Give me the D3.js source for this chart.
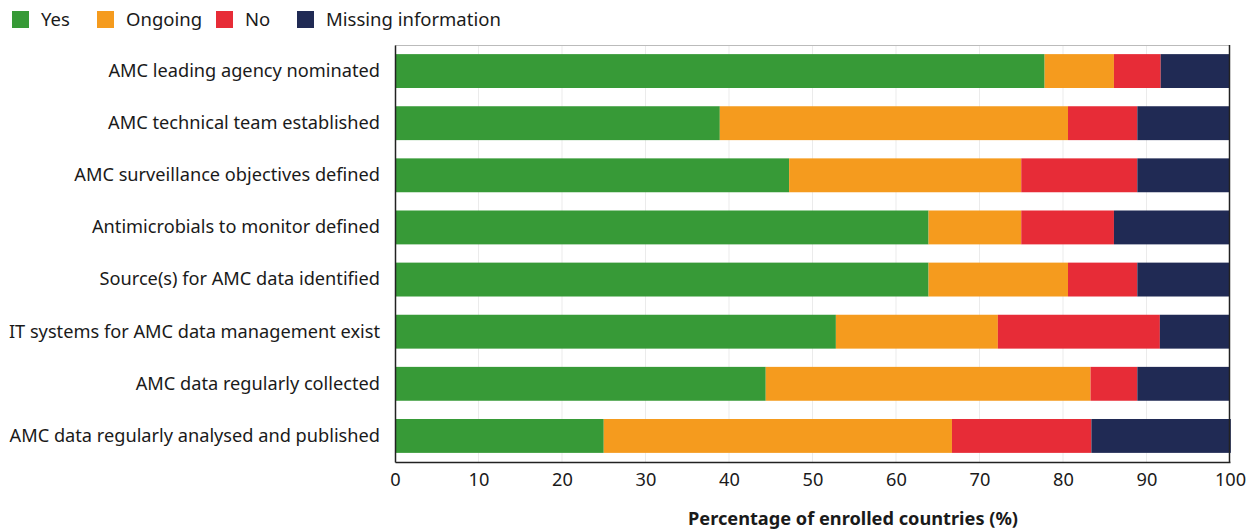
<!DOCTYPE html>
<html lang="en">
<head>
<meta charset="UTF-8">
<title>AMC surveillance</title>
<script src="https://d3js.org/d3.v7.min.js"></script>
<style>
  body { margin: 0; background: #fff; font-family: "Noto Sans", sans-serif; }
  svg { display: block; }
  .tick text { font-family: "Noto Sans", sans-serif; font-size: 18.2px; fill: #1a1a1a; }
</style>
</head>
<body>
<svg id="chart" width="1256" height="531"></svg>
<script>
const categories = [
  "AMC leading agency nominated",
  "AMC technical team established",
  "AMC surveillance objectives defined",
  "Antimicrobials to monitor defined",
  "Source(s) for AMC data identified",
  "IT systems for AMC data management exist",
  "AMC data regularly collected",
  "AMC data regularly analysed and published"
];
const seriesNames = ["Yes", "Ongoing", "No", "Missing information"];
const yesValues     = [77.8, 38.9, 47.2, 63.9, 63.9, 52.8, 44.4, 25.0];
const ongoingValues = [8.3, 41.7, 27.8, 11.1, 16.7, 19.4, 38.9, 41.7];
const noValues      = [5.6, 8.3, 13.9, 11.1, 8.3, 19.4, 5.6, 16.7];
const missingValues = [8.3, 11.1, 11.1, 13.9, 11.1, 8.3, 11.1, 16.7];
const xTicks = [0, 10, 20, 30, 40, 50, 60, 70, 80, 90, 100];
const colors = ["#379a37", "#f59b1e", "#e72c37", "#202a54"];

const rows = categories.map((c, i) => ({
  cat: c,
  "Yes": yesValues[i],
  "Ongoing": ongoingValues[i],
  "No": noValues[i],
  "Missing information": missingValues[i]
}));

const margin = {top: 45, right: 26, bottom: 69, left: 395};
const width = 1256 - margin.left - margin.right;
const height = 531 - margin.top - margin.bottom;

const svg = d3.select("#chart");
const g = svg.append("g").attr("transform", `translate(${margin.left},${margin.top})`);

const x = d3.scaleLinear().domain([0, 100]).range([0, width]);
const y = d3.scaleBand().domain(categories).range([0, height]).paddingInner(0.35).paddingOuter(0.175);
const color = d3.scaleOrdinal().domain(seriesNames).range(colors);

// grid
g.selectAll(".grid").data(xTicks.slice(1, -1)).enter().append("line")
  .attr("x1", d => x(d)).attr("x2", d => x(d))
  .attr("y1", 0).attr("y2", height)
  .attr("stroke", "#ebebeb").attr("stroke-width", 1);

const stacked = d3.stack().keys(seriesNames)(rows);

g.selectAll(".series").data(stacked).enter().append("g")
  .attr("fill", d => color(d.key))
  .selectAll("rect").data(d => d).enter().append("rect")
  .attr("x", d => x(d[0]))
  .attr("width", d => x(d[1]) - x(d[0]))
  .attr("y", d => y(d.data.cat))
  .attr("height", y.bandwidth());

// frame
g.append("line").attr("x1", 0).attr("x2", width).attr("y1", 0.5).attr("y2", 0.5).attr("stroke", "#bbb");
g.append("line").attr("x1", width - 0.5).attr("x2", width - 0.5).attr("y1", 0).attr("y2", height).attr("stroke", "#222").attr("stroke-width", 1.5);

const xAxis = g.append("g").attr("transform", `translate(0,${height})`)
  .call(d3.axisBottom(x).tickValues(xTicks).tickSize(0).tickPadding(11));
xAxis.select(".domain").attr("stroke", "#222").attr("stroke-width", 1.5);

const yAxis = g.append("g")
  .call(d3.axisLeft(y).tickSize(0).tickPadding(15));
yAxis.select(".domain").attr("stroke", "#222").attr("stroke-width", 1.5);

svg.append("text")
  .attr("x", 853).attr("y", 525)
  .attr("text-anchor", "middle")
  .attr("font-size", 18.2).attr("font-weight", "bold").attr("fill", "#1a1a1a")
  .text("Percentage of enrolled countries (%)");

// legend
const legendX = [12, 97, 216, 297];
const legend = svg.append("g").selectAll("g").data(seriesNames).enter().append("g")
  .attr("transform", (d, i) => `translate(${legendX[i]},11)`);
legend.append("rect").attr("width", 17).attr("height", 17).attr("fill", d => color(d));
legend.append("text").attr("x", 29).attr("y", 15)
  .attr("font-size", 18.5).attr("fill", "#1a1a1a").text(d => d);
</script>
</body>
</html>
